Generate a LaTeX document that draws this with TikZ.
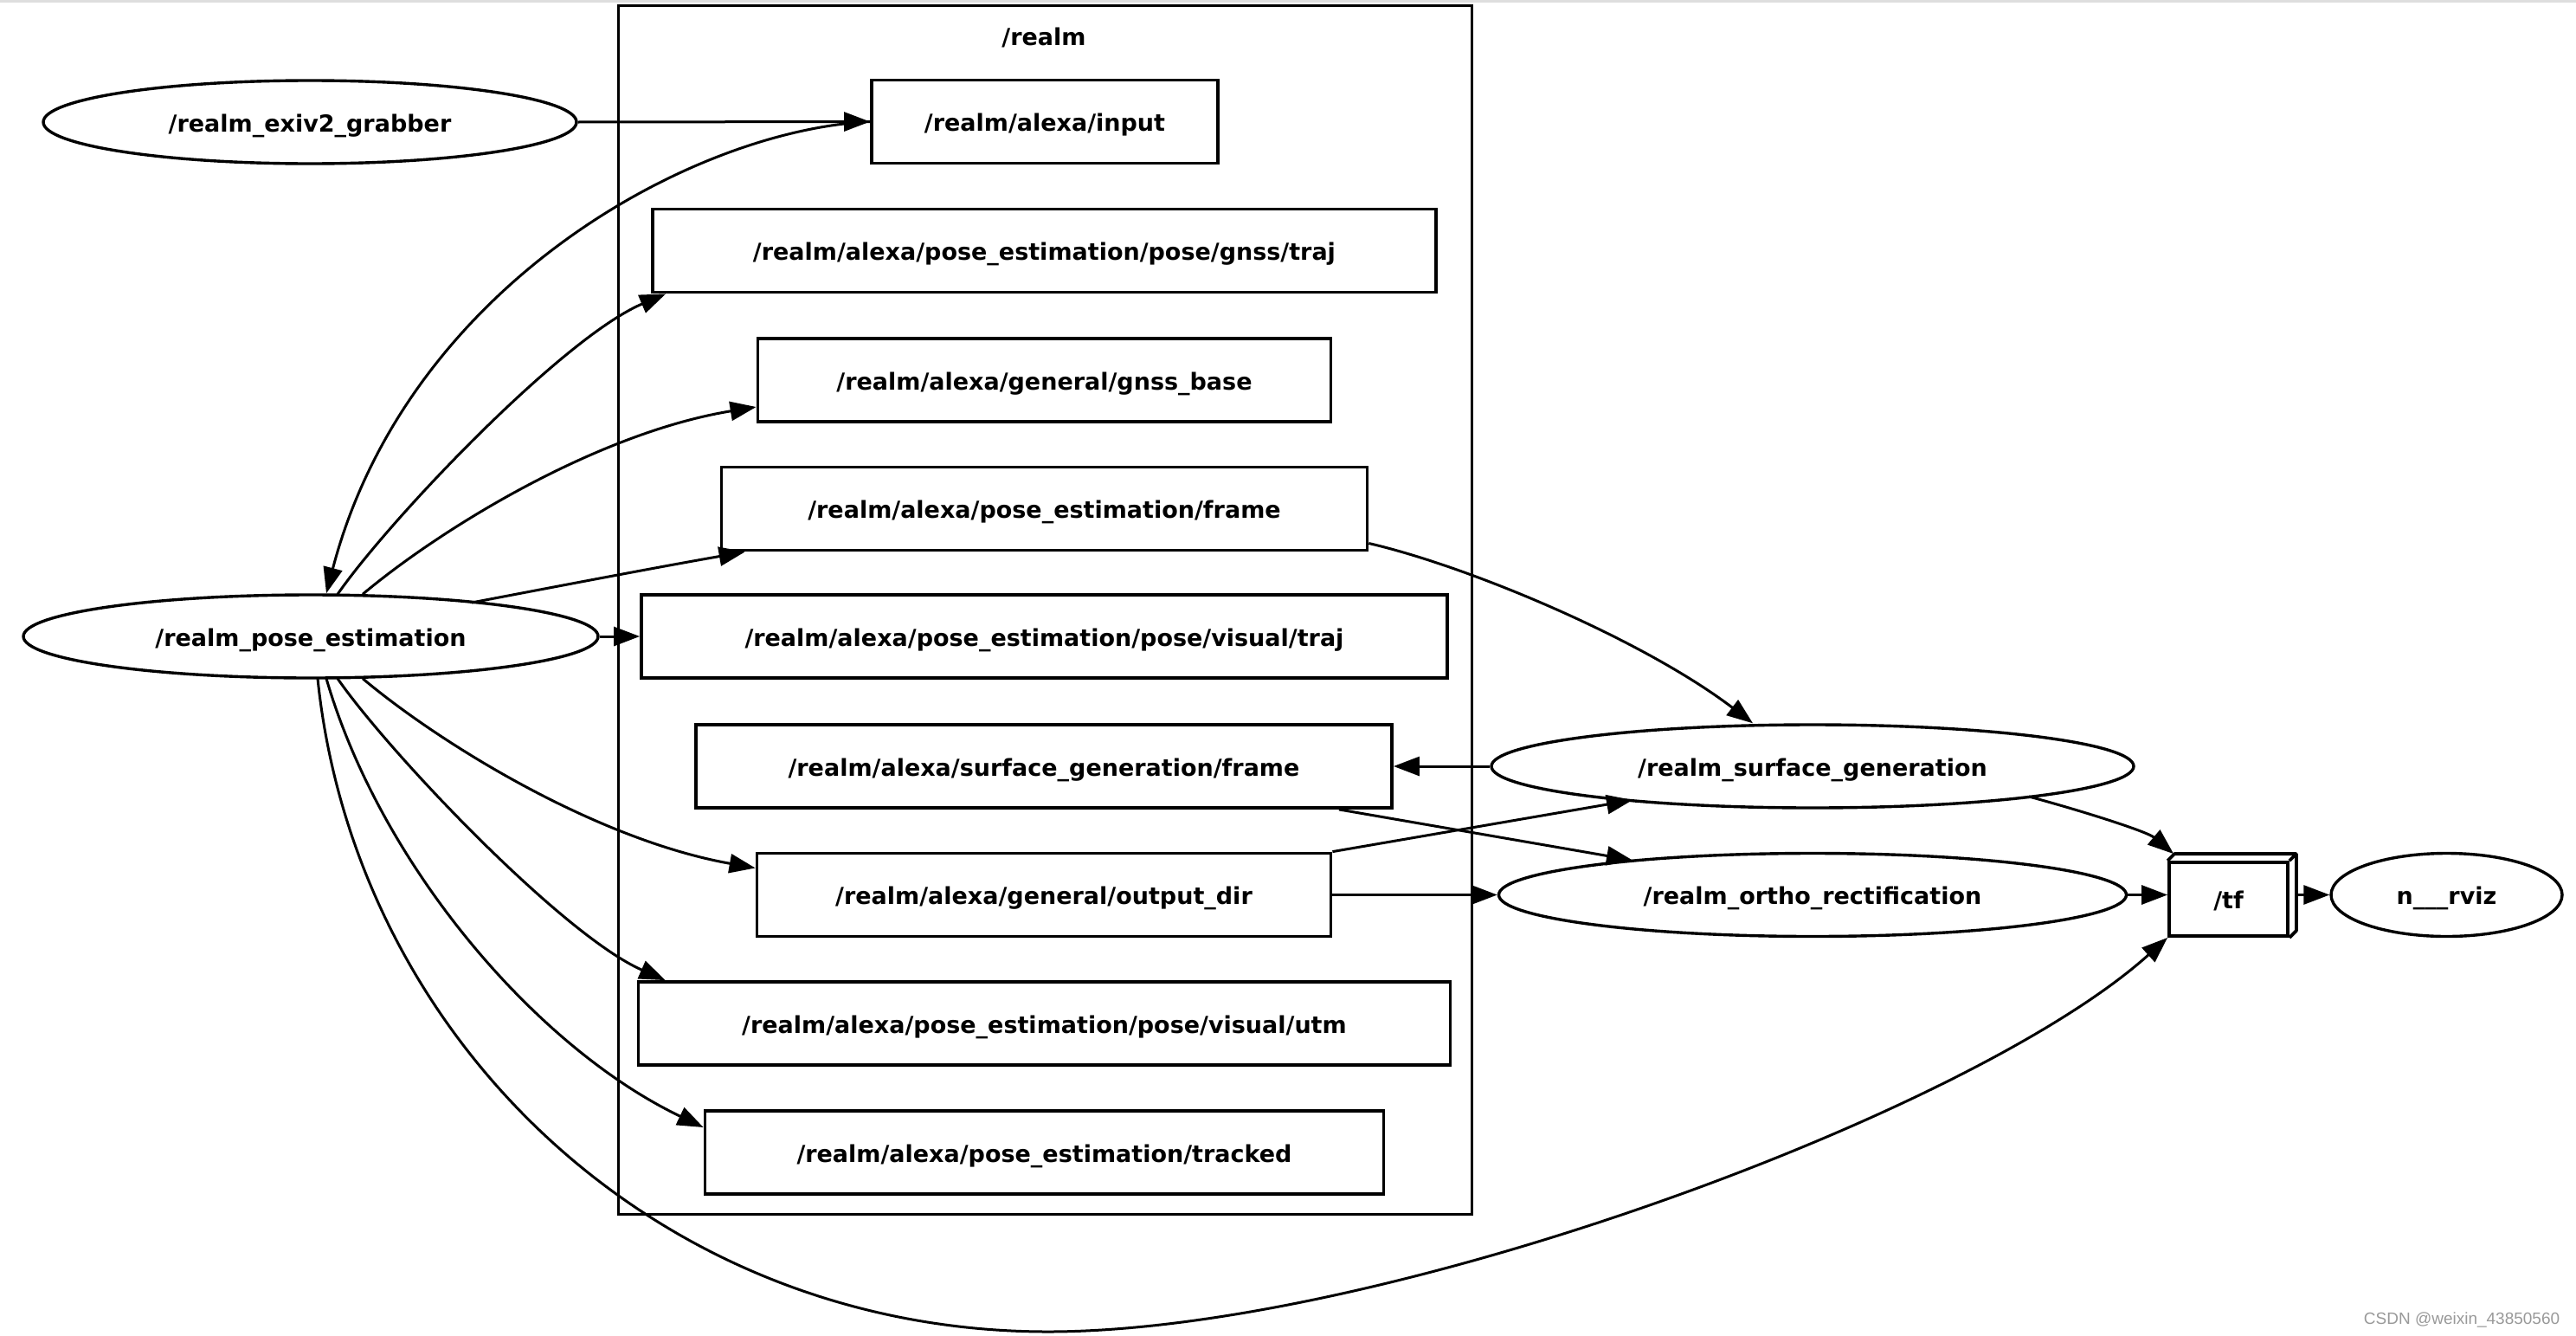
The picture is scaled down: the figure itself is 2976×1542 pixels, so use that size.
\documentclass[tikz,border=0pt]{standalone}
\usepackage{fontspec}
\setmainfont{DejaVu Sans}
\newfontfamily\wmfont{Liberation Sans}
\usetikzlibrary{arrows.meta,shapes.geometric,calc}
\begin{document}
\begin{tikzpicture}[x=0.25pt,y=-0.25pt,
  lbl/.style={font=\fontsize{6.75pt}{8pt}\selectfont\bfseries, text height=6.4pt, text depth=0.75pt, inner sep=0pt},
  topic/.style={lbl, draw, line width=0.95pt, rectangle, minimum height=24pt},
  rosnode/.style={lbl, draw, line width=0.85pt, ellipse, minimum height=24pt},
  conn/.style={line width=0.75pt, -{Triangle[length=7.5pt,width=5.5pt]}},
  boxline/.style={line width=0.95pt, line join=round},
]
\fill[white] (0,0) rectangle (2976,1542);
\useasboundingbox (0,0) rectangle (2976,1542);
\fill[black!13] (0,0) rectangle (2976,3);

% cluster
\node[draw, line width=0.75pt, minimum width=246.5pt, minimum height=349pt, inner sep=0pt] (realm) at (1207,704) {};
\node[lbl] (realmlbl) at (1206,41) {/realm};

% topics
\node[topic, minimum width=100pt]    (input)   at (1207,140.5) {/realm/alexa/input};
\node[topic, minimum width=226.25pt] (gtraj)   at (1206.5,289.5) {/realm/alexa/pose\_estimation/pose/gnss/traj};
\node[topic, minimum width=165.5pt]  (gbase)   at (1206.5,439) {/realm/alexa/general/gnss\_base};
\node[topic, minimum width=186.5pt]  (frame)   at (1206.5,587.5) {/realm/alexa/pose\_estimation/frame};
\node[topic, minimum width=232.75pt] (vtraj)   at (1206.5,735) {/realm/alexa/pose\_estimation/pose/visual/traj};
\node[topic, minimum width=201pt]    (sframe)  at (1206,885) {/realm/alexa/surface\_generation/frame};
\node[topic, minimum width=165.75pt] (outdir)  at (1206,1033.5) {/realm/alexa/general/output\_dir};
\node[topic, minimum width=234.5pt]  (vutm)    at (1206.5,1182) {/realm/alexa/pose\_estimation/pose/visual/utm};
\node[topic, minimum width=196pt]    (tracked) at (1206.5,1331) {/realm/alexa/pose\_estimation/tracked};

% ros nodes
\node[rosnode, minimum width=154pt]    (exiv)  at (358,141) {/realm\_exiv2\_grabber};
\node[rosnode, minimum width=166pt]    (pose)  at (359,735) {/realm\_pose\_estimation};
\node[rosnode, minimum width=185.5pt]  (sgen)  at (2094,885) {/realm\_surface\_generation};
\node[rosnode, minimum width=181.25pt] (ortho) at (2094,1033.5) {/realm\_ortho\_rectification};
\node[rosnode, minimum width=66.75pt]  (rviz)  at (2826.5,1033.5) {n\_\_\_rviz};

% /tf box3d
\node[lbl, draw, line width=0.95pt, rectangle, minimum width=34.25pt, minimum height=21.25pt] (tf) at (2574.5,1038.5) {/tf};
\draw[boxline] (tf.north west) -- ++(8,-8) -- ($(tf.north east)+(8,-8)$) -- ($(tf.south east)+(8,-8)$) -- (tf.south east);
\draw[boxline] (tf.north east) -- ++(8,-8);

% edges
\draw[conn] (exiv.east) -- (input.west);
\draw[conn] (input.west) .. controls (800,150) and (470,330) .. ($(pose.north)+(18,0)$);
\draw[conn] ($(pose.north)+(31,1)$) .. controls (450,600) and (650,390) .. ($(gtraj.south west)+(17,0)$);
\draw[conn] ($(pose.north)+(60,1)$) .. controls (510,610) and (690,500) .. ($(gbase.west)+(0,31)$);
\draw[conn] ($(pose.center)+(186,-39)$) .. controls (650,676) and (760,655) .. ($(frame.south west)+(29,0)$);
\draw[conn] (pose.east) -- (vtraj.west);
\draw[conn] ($(pose.south)+(60,-1)$) .. controls (510,860) and (690,970) .. ($(outdir.west)+(0,-31)$);
\draw[conn] ($(pose.south)+(31,-1)$) .. controls (450,870) and (650,1080) .. ($(vutm.north west)+(33,0)$);
\draw[conn] ($(pose.south)+(18,-1)$) .. controls (440,1000) and (620,1210) .. ($(tracked.west)+(0,-29)$);
\coordinate (tfbend) at (1215,1538);
\draw[conn] ($(pose.south)+(8,-1)$) .. controls (410,1200) and (760,1540) .. (tfbend)
  .. controls (1600,1536) and (2280,1285) .. (tf.south west);
\draw[conn] ($(frame.east)+(0,40)$) .. controls (1700,655) and (1900,740) .. ($(sgen.north)+(-69,0)$);
\draw[conn] (sgen.west) -- (sframe.east);
\draw[conn] ($(sframe.south east)+(-63,0)$) -- ($(ortho.center)+(-208,-40)$);
\draw[conn] (outdir.north east) -- ($(sgen.center)+(-208,39)$);
\draw[conn] (outdir.east) -- (ortho.west);
\draw[conn] ($(sgen.center)+(250,35)$) .. controls (2400,935) and (2480,960) .. ($(tf.north west)+(7,-8)$);
\draw[conn] (ortho.east) -- (tf.west |- ortho.east);
\draw[conn] ($(tf.east |- rviz.west)+(8,0)$) -- (rviz.west);

% watermark
\node[font=\wmfont\fontsize{4.75pt}{5.5pt}\selectfont, text=black!40, anchor=base east, inner sep=0pt] (wm) at (2958,1529) {CSDN @weixin\_43850560};
\end{tikzpicture}
\end{document}
